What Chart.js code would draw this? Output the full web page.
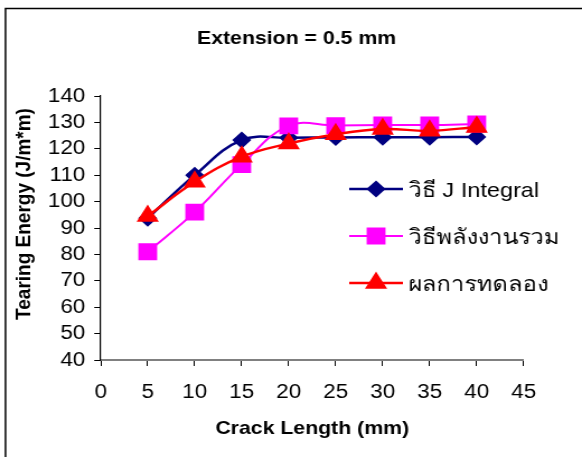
<!DOCTYPE html>
<html>
<head>
<meta charset="utf-8">
<script src="https://cdn.jsdelivr.net/npm/chart.js@4/dist/chart.umd.min.js"></script>
<style>
  html, body { margin: 0; padding: 0; background: #fff; overflow: hidden; }
</style>
</head>
<body>
<!-- the source picture is stretched sideways a little, so draw narrow and stretch -->
<canvas id="chart" width="520" height="457" style="display:block;width:582px;height:457px"></canvas>
<script>
const crackLength = [5, 10, 15, 20, 25, 30, 35, 40]
const jIntegral = [93.7, 110, 123.3, 124.2, 124.3, 124.4, 124.4, 124.5]
const totalEnergy = [81, 96, 114, 128.7, 128.8, 129, 129, 129.4]
const experiment = [94.5, 107.5, 117, 122, 125.5, 127.5, 126.8, 128.3]

const seriesNames = ['วิธี J Integral', 'วิธีพลังงานรวม', 'ผลการทดลอง']
const chartTitle = 'Extension = 0.5 mm'
const xTitle = 'Crack Length (mm)'
const yTitle = 'Tearing Energy (J/m*m)'
const xTicks = [0, 45, 5]     // min, max, step
const yTicks = [40, 140, 10]

const FONT = 'Arial, "Liberation Sans", sans-serif'

const toPoints = (ys) => crackLength.map((x, i) => ({ x: x, y: ys[i] }))

// frame, title, y title and the floating legend
const decorations = {
  id: 'decorations',
  afterDraw(chart) {
    const ctx = chart.ctx
    ctx.save()
    ctx.strokeStyle = '#000'
    ctx.lineWidth = 1.5
    ctx.beginPath()
    ctx.moveTo(4.9, 457)
    ctx.lineTo(4.9, 8.5)
    ctx.lineTo(520, 8.5)
    ctx.stroke()

    ctx.fillStyle = '#000'
    ctx.textAlign = 'center'
    ctx.textBaseline = 'alphabetic'
    ctx.font = 'bold 19px ' + FONT
    ctx.fillText(chartTitle, 265, 44)

    ctx.save()
    ctx.translate(22, 214)
    ctx.rotate(-Math.PI / 2)
    ctx.textBaseline = 'middle'
    ctx.fillText(yTitle, 0, 0)
    ctx.restore()

    const rows = [189, 236, 283]
    chart.data.datasets.forEach((ds, i) => {
      const y = rows[i]
      ctx.strokeStyle = ds.borderColor
      ctx.lineWidth = ds.borderWidth
      ctx.beginPath()
      ctx.moveTo(312, y)
      ctx.lineTo(360, y)
      ctx.stroke()
      Chart.helpers.drawPoint(ctx, {
        pointStyle: ds.pointStyle,
        radius: ds.pointRadius,
        borderWidth: 1
      }, 336, y)
      ctx.fillStyle = ds.pointBackgroundColor
      ctx.strokeStyle = ds.pointBorderColor
      ctx.fill()
      ctx.fillStyle = '#000'
      ctx.textAlign = 'left'
      ctx.font = '21px ' + FONT
      ctx.fillText(ds.label, 364.5, y + 8)
    })
    ctx.restore()
  }
}

new Chart(document.getElementById('chart'), {
  type: 'line',
  data: {
    datasets: [{
      label: seriesNames[0],
      data: toPoints(jIntegral),
      borderColor: '#000080',
      backgroundColor: '#000080',
      pointBackgroundColor: '#000080',
      pointBorderColor: '#000080',
      borderWidth: 2.5,
      pointStyle: 'rectRot',
      pointRadius: 6.8,
      tension: 0.4,
      order: 3
    }, {
      label: seriesNames[1],
      data: toPoints(totalEnergy),
      borderColor: '#ff00ff',
      backgroundColor: '#ff00ff',
      pointBackgroundColor: '#ff00ff',
      pointBorderColor: '#ff00ff',
      borderWidth: 2,
      pointStyle: 'rect',
      pointRadius: 10.5,
      tension: 0.4,
      order: 2
    }, {
      label: seriesNames[2],
      data: toPoints(experiment),
      borderColor: '#ff0000',
      backgroundColor: '#ff0000',
      pointBackgroundColor: '#ff0000',
      pointBorderColor: '#ff0000',
      borderWidth: 2.5,
      pointStyle: 'triangle',
      pointRadius: 9,
      tension: 0.4,
      order: 1
    }]
  },
  options: {
    responsive: false,
    animation: false,
    devicePixelRatio: 1,
    layout: { padding: { top: 96, right: 52.1, bottom: 0, left: 0 } },
    plugins: {
      legend: { display: false },
      title: { display: false },
      tooltip: { enabled: false }
    },
    elements: { point: { borderWidth: 1 } },
    scales: {
      x: {
        type: 'linear',
        min: xTicks[0],
        max: xTicks[1],
        afterFit: (s) => { s.height = 97 },
        ticks: { stepSize: xTicks[2], autoSkip: false, maxRotation: 0, color: '#000', font: { family: FONT, size: 20 }, padding: 14 },
        grid: { drawOnChartArea: false, drawTicks: true, tickLength: 6, color: '#000', tickWidth: 1 },
        border: { color: '#808080', width: 2 },
        title: {
          display: true,
          text: xTitle,
          color: '#000',
          font: { family: FONT, size: 19, weight: 'bold' },
          padding: { top: 0, bottom: 16.6 }
        }
      },
      y: {
        min: yTicks[0],
        max: yTicks[1],
        afterFit: (s) => { s.width = 90 },
        ticks: { stepSize: yTicks[2], autoSkip: false, color: '#000', font: { family: FONT, size: 20 }, padding: 8 },
        grid: { drawOnChartArea: false, drawTicks: true, tickLength: 5.8, color: '#000', tickWidth: 1 },
        border: { color: '#000', width: 1.2 }
      }
    }
  },
  plugins: [decorations]
})
</script>
</body>
</html>
